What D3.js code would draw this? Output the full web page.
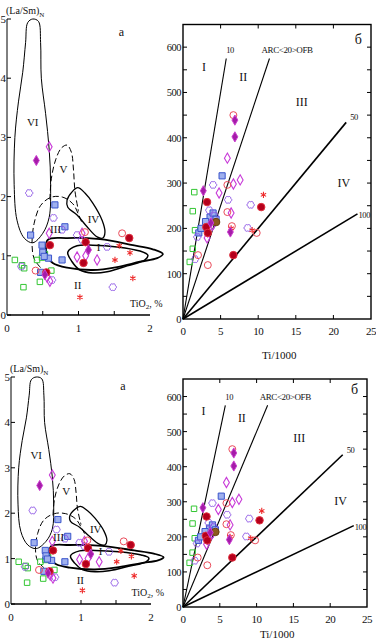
<!DOCTYPE html>
<html><head><meta charset="utf-8">
<script src="https://cdn.jsdelivr.net/npm/d3@7"></script>
<style>
body{margin:0;background:#fff}
svg{display:block}
text{font-family:"Liberation Serif","Times New Roman",serif;fill:#111}
</style>
</head><body>
<svg id="c" width="376" height="642"></svg>
<script>
// ===== Panel "а": (La/Sm)N vs TiO2, % =====
const aTicksX = [0, 1, 2];
const aMinorX = [0.5, 1, 1.5];
const aTicksY = [0, 1, 2, 3, 4, 5];
// field contours
const aFieldVI = [[0.36,5.0],[0.44,4.96],[0.47,4.6],[0.48,4.0],[0.54,3.4],[0.59,2.8],[0.61,2.2],[0.59,1.65],[0.5,1.38],[0.36,1.22],[0.24,1.3],[0.14,1.6],[0.1,2.2],[0.11,3.0],[0.16,3.6],[0.22,4.1],[0.26,4.6],[0.29,4.94]];
const aFieldV = [[0.6,1.95],[0.62,2.3],[0.68,2.62],[0.76,2.82],[0.84,2.87],[0.9,2.75],[0.93,2.45],[0.95,2.1],[1.0,1.75]];
const aFieldIII = [[0.47,0.8],[0.38,0.95],[0.35,1.2],[0.38,1.55],[0.47,1.85],[0.62,1.99],[0.78,1.99],[0.92,1.88],[1.0,1.7],[1.05,1.55]];
const aFieldIV = [[0.84,1.94],[0.91,2.08],[0.99,2.15],[1.09,2.06],[1.2,1.89],[1.33,1.6],[1.37,1.4],[1.34,1.3],[1.26,1.32],[1.12,1.49],[0.98,1.69],[0.85,1.82]];
const aFieldI = [[0.57,1.27],[0.84,1.3],[1.3,1.28],[1.76,1.18],[2.04,1.11],[2.18,1.03],[2.1,0.96],[1.86,0.9],[1.54,0.81],[1.2,0.76],[0.84,0.8],[0.64,0.88],[0.56,1.01]];
const aFieldII = [[0.85,1.06],[0.98,1.17],[1.2,1.18],[1.54,1.15],[1.86,1.08],[1.97,1.01],[1.93,0.93],[1.68,0.83],[1.4,0.73],[1.2,0.71],[1.02,0.76],[0.91,0.9]];
// sample points
const aGreenSq = [[0.11,0.93],[0.21,0.84],[0.24,0.79],[0.23,0.47],[0.42,0.93],[0.49,0.97],[0.46,0.56],[0.62,0.75],[0.53,1.03]];
const aBlueSq = [[0.67,1.86],[0.81,1.49],[0.33,1.35],[0.49,1.18],[0.5,1.06],[0.58,0.96],[0.52,0.99],[0.77,0.93],[0.47,0.72]];
const aVioletFl = [[0.31,2.06],[0.65,1.64],[0.77,1.44],[0.98,1.35],[1.4,1.15],[1.48,0.47],[0.63,0.59],[1.05,1.27],[0.2,0.82]];
const aMagOpenDia = [[0.59,2.84],[0.59,1.38],[1.05,1.38],[0.98,0.98],[1.26,0.93],[0.6,0.57],[0.56,0.64],[1.1,1.0]];
const aMagFillDia = [[0.41,2.61],[1.14,1.1],[0.53,0.68]];
const aRedOpen = [[1.61,1.38],[1.09,1.4],[0.4,0.75]];
const aRedFill = [[0.6,1.18],[1.07,0.88],[1.1,1.23],[1.71,1.3],[0.55,0.72]];
const aRedAst = [[1.02,0.3],[1.51,0.93],[1.72,1.05],[1.76,0.62],[1.57,1.17]];

// ===== Panel "б": V vs Ti/1000 =====
const bTicksX = [0, 5, 10, 15, 20, 25];
const bTicksY = [0, 100, 200, 300, 400, 500, 600];
const bMinorY = [50,100,150,200,250,300,350,400,450,500,550,600];
const bRatios = [10, 20, 50, 100];          // Ti/V
const bLineEnd = [5.75, 11.5, 21.7, 23.2];  // Ti/1000 where each ratio line ends
const bLineLabels = ["10", "ARC<20>OFB", "50", "100"];
const bGreenSq = [[1.5,280],[1.3,238],[1.6,196],[1.3,155],[0.9,126]];
const bBlueSq = [[5.2,316],[2.1,190],[3.6,225],[4.0,234],[3.0,215],[2.4,200],[4.4,220]];
const bVioletFl = [[4.0,296],[6.0,263],[9.0,252],[8.6,201],[1.6,132],[1.9,181],[3.5,240],[4.2,228],[3.8,205]];
const bMagOpenDia = [[5.9,355],[4.8,278],[6.7,298],[7.6,307],[6.4,234],[3.2,179],[3.9,207],[3.3,192]];
const bMagFillDia = [[6.9,439],[6.9,402],[2.7,283],[6.3,192],[3.7,212]];
const bRedOpen = [[6.7,450],[5.9,296],[5.9,236],[3.3,119],[2.0,141],[9.8,190],[6.5,205]];
const bRedFill = [[3.2,258],[3.1,203],[10.4,247],[6.7,141],[3.3,190]];
const bBrownFill = [[4.4,214]];
const bRedAst = [[10.7,274],[6.4,200],[9.2,196]];

// ===== symbols / styles =====
const flower = {draw(ctx, size){
  const r = Math.sqrt(size/Math.PI);
  const n = 48;
  for (let i=0;i<=n;i++){
    const t = i/n*2*Math.PI;
    const rho = r*(0.82+0.18*Math.abs(Math.cos(3*t)));
    const px = rho*Math.cos(t), py = rho*Math.sin(t);
    if(i===0) ctx.moveTo(px,py); else ctx.lineTo(px,py);
  }
  ctx.closePath();
}};
const astType = d3.symbolAsterisk || d3.symbolCross;
const styles = {
  green:   {type:d3.symbolSquare, size:30, fill:"none", stroke:"#33c633", sw:1},
  blue:    {type:d3.symbolSquare, size:38, fill:"#9fb0ee", stroke:"#3a55cc", sw:1},
  violet:  {type:flower, size:42, fill:"none", stroke:"#8a50e6", sw:1},
  magOpen: {type:d3.symbolDiamond, size:30, fill:"none", stroke:"#c83ad8", sw:1.1},
  magFill: {type:d3.symbolDiamond, size:30, fill:"#a41ca8", stroke:"#cc40d0", sw:1},
  redOpen: {type:d3.symbolCircle, size:38, fill:"none", stroke:"#ea4b5a", sw:1},
  redFill: {type:d3.symbolCircle, size:44, fill:"#b5001c", stroke:"#e0303e", sw:1},
  brown:   {type:d3.symbolCircle, size:44, fill:"#8c5a1e", stroke:"#6a3e10", sw:1},
  redAst:  {type:astType, size:26, fill:"none", stroke:"#ee2a2a", sw:1.1}
};

const svg = d3.select("#c");

function pts(g, x, y, data, st){
  g.append("g").selectAll("path").data(data).join("path")
    .attr("transform", d => `translate(${x(d[0])},${y(d[1])})`)
    .attr("d", d3.symbol().type(st.type).size(st.size))
    .attr("fill", st.fill).attr("stroke", st.stroke).attr("stroke-width", st.sw);
}

function drawA(px0, px2, py0, py5){
  const g = svg.append("g");
  const x = d3.scaleLinear().domain([0,2]).range([px0, px2]);
  const y = d3.scaleLinear().domain([0,5]).range([py0, py5]);
  // axes
  g.append("line").attr("x1",x(0)).attr("x2",x(2)).attr("y1",y(0)).attr("y2",y(0)).attr("stroke","#000").attr("stroke-width",1.4);
  g.append("line").attr("x1",x(0)).attr("x2",x(0)).attr("y1",y(0)).attr("y2",y(5)).attr("stroke","#000").attr("stroke-width",1);
  g.selectAll(".ty").data(aTicksY).join("line").attr("x1",x(0)).attr("x2",x(0)+4).attr("y1",d=>y(d)).attr("y2",d=>y(d)).attr("stroke","#000");
  g.selectAll(".ly").data(aTicksY).join("text").attr("x",x(0)-1).attr("y",d=>y(d)+4).attr("text-anchor","end").attr("font-size",11).text(d=>d);
  g.selectAll(".tx").data(aMinorX).join("line").attr("x1",d=>x(d)).attr("x2",d=>x(d)).attr("y1",y(0)).attr("y2",y(0)-4).attr("stroke","#000");
  g.selectAll(".lx").data(aTicksX).join("text").attr("x",d=>x(d)).attr("y",y(0)+17).attr("text-anchor","middle").attr("font-size",11).text(d=>d);
  // axis titles
  const yt = g.append("text").attr("x",x(0)-1).attr("y",y(5)-5).attr("font-size",10);
  yt.append("tspan").text("(La/Sm)");
  yt.append("tspan").attr("font-size",7).attr("dy",3).text("N");
  const xt = g.append("text").attr("x",x(1.72)).attr("y",y(0)-8).attr("font-size",10);
  xt.append("tspan").text("TiO");
  xt.append("tspan").attr("font-size",7).attr("dy",2).text("2");
  xt.append("tspan").attr("dy",-2).text(", %");
  g.append("text").attr("x",x(1.6)).attr("y",y(4.72)).attr("font-size",12).attr("text-anchor","middle").text("а");
  // fields
  const lc = d3.line().x(d=>x(d[0])).y(d=>y(d[1])).curve(d3.curveCatmullRomClosed.alpha(0.5));
  const lo = d3.line().x(d=>x(d[0])).y(d=>y(d[1])).curve(d3.curveCatmullRom.alpha(0.5));
  g.append("path").attr("d",lc(aFieldVI)).attr("fill","none").attr("stroke","#000").attr("stroke-width",1);
  g.append("path").attr("d",lo(aFieldV)).attr("fill","none").attr("stroke","#000").attr("stroke-width",1).attr("stroke-dasharray","6,3");
  g.append("path").attr("d",lo(aFieldIII)).attr("fill","none").attr("stroke","#000").attr("stroke-width",1).attr("stroke-dasharray","6,3");
  g.append("path").attr("d",lc(aFieldIV)).attr("fill","none").attr("stroke","#000").attr("stroke-width",1.3);
  g.append("path").attr("d",lc(aFieldI)).attr("fill","none").attr("stroke","#000").attr("stroke-width",1.8);
  g.append("path").attr("d",lc(aFieldII)).attr("fill","none").attr("stroke","#000").attr("stroke-width",1.5);
  // points
  pts(g,x,y,aGreenSq,styles.green);
  pts(g,x,y,aBlueSq,styles.blue);
  pts(g,x,y,aVioletFl,styles.violet);
  pts(g,x,y,aMagOpenDia,styles.magOpen);
  pts(g,x,y,aRedOpen,styles.redOpen);
  pts(g,x,y,aRedAst,styles.redAst);
  pts(g,x,y,aRedFill,styles.redFill);
  pts(g,x,y,aMagFillDia,styles.magFill);
  // field labels
  const lab = [["VI",0.36,3.2],["V",0.79,2.4],["III",0.68,1.38],["IV",1.21,1.56],["II",0.99,0.44],["I",1.28,1.08]];
  g.selectAll(".fl").data(lab).join("text").attr("x",d=>x(d[1])).attr("y",d=>y(d[2])).attr("text-anchor","middle").attr("font-size",11).text(d=>d[0]);
}

function drawB(px0, px25, py0, py650, titleOff){
  const g = svg.append("g");
  const x = d3.scaleLinear().domain([0,25]).range([px0, px25]);
  const y = d3.scaleLinear().domain([0,650]).range([py0, py650]);
  g.append("rect").attr("x",x(0)).attr("y",y(650)).attr("width",x(25)-x(0)).attr("height",y(0)-y(650)).attr("fill","none").attr("stroke","#000").attr("stroke-width",1.4);
  const inner = bTicksX.slice(1,-1);
  g.selectAll(".tb").data(inner).join("line").attr("x1",d=>x(d)).attr("x2",d=>x(d)).attr("y1",y(0)).attr("y2",y(0)-4).attr("stroke","#000");
  g.selectAll(".tt").data(inner).join("line").attr("x1",d=>x(d)).attr("x2",d=>x(d)).attr("y1",y(650)).attr("y2",y(650)+4).attr("stroke","#000");
  g.selectAll(".tl").data(bMinorY).join("line").attr("x1",x(0)).attr("x2",x(0)+4).attr("y1",d=>y(d)).attr("y2",d=>y(d)).attr("stroke","#000");
  g.selectAll(".tr").data(bMinorY).join("line").attr("x1",x(25)).attr("x2",x(25)-4).attr("y1",d=>y(d)).attr("y2",d=>y(d)).attr("stroke","#000");
  g.selectAll(".ly").data(bTicksY).join("text").attr("x",x(0)-2).attr("y",d=>y(d)+4).attr("text-anchor","end").attr("font-size",10.5).attr("letter-spacing",-0.5).text(d=>d);
  g.selectAll(".lx").data(bTicksX).join("text").attr("x",d=>x(d)).attr("y",y(0)+16).attr("text-anchor","middle").attr("font-size",11).attr("letter-spacing",-0.5).text(d=>d);
  g.append("text").attr("x",x(12.8)).attr("y",y(0)+titleOff).attr("text-anchor","middle").attr("font-size",11).text("Ti/1000");
  // ratio lines
  const lines = bRatios.map((r,i)=>({r, x2:bLineEnd[i], v2:bLineEnd[i]*1000/r, label:bLineLabels[i], i}));
  g.selectAll(".rl").data(lines).join("line")
    .attr("x1",x(0)).attr("y1",y(0)).attr("x2",d=>x(d.x2)).attr("y2",d=>y(d.v2))
    .attr("stroke","#000").attr("stroke-width",d=>d.i>=2?1.6:1.1);
  const off = [[0,-5],[-8,-5],[4,-2],[1,4]];
  g.selectAll(".rt").data(lines).join("text")
    .attr("x",d=>x(d.x2)+off[d.i][0]).attr("y",d=>y(d.v2)+off[d.i][1])
    .attr("font-size",d=>d.i===1?9:8.5).attr("letter-spacing",-0.4).text(d=>d.label);
  const lab = [["I",2.8,548,12],["II",8.0,526,12],["III",15.8,470,12],["IV",21.4,292,12],["б",23.3,606,14]];
  g.selectAll(".fl").data(lab).join("text").attr("x",d=>x(d[1])).attr("y",d=>y(d[2])).attr("text-anchor","middle").attr("font-size",d=>d[3]).text(d=>d[0]);
  pts(g,x,y,bGreenSq,styles.green);
  pts(g,x,y,bBlueSq,styles.blue);
  pts(g,x,y,bVioletFl,styles.violet);
  pts(g,x,y,bMagOpenDia,styles.magOpen);
  pts(g,x,y,bRedOpen,styles.redOpen);
  pts(g,x,y,bRedAst,styles.redAst);
  pts(g,x,y,bRedFill,styles.redFill);
  pts(g,x,y,bBrownFill,styles.brown);
  pts(g,x,y,bMagFillDia,styles.magFill);
}

drawA(7, 150, 315, 19);
drawB(183, 371, 319, 24.5, 40);
drawA(11, 151, 604, 377);
drawB(183, 367, 607, 379, 31);
</script>
</body></html>
